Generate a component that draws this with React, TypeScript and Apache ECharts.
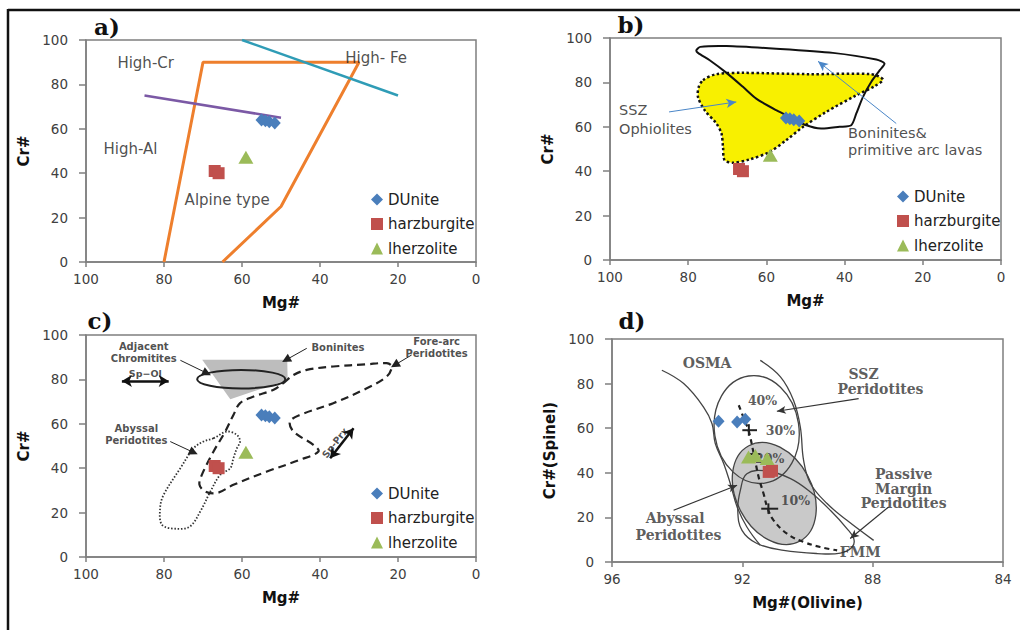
import React, { useEffect, useRef } from 'react';
import * as echarts from 'echarts';

// ---------- data ----------
const rockNames = ['DUnite', 'harzburgite', 'lherzolite'];
// Cr# vs Mg# of spinel (panels a, b, c)
const dunite = [[55, 64], [54, 63.6], [53, 63.2], [51.6, 62.6]];
const harzburgite = [[67, 41], [66, 40]];
const lherzolite = [[59, 47.2]];
// Cr#(spinel) vs Mg#(olivine) (panel d)
const duniteOl = [[92.73, 63.1], [92.16, 62.8], [91.91, 64]];
const harzburgiteOl = [[91.19, 40.4], [91.09, 40.9]];
const lherzoliteOl = [[91.81, 47.1], [91.6, 47.8], [91.24, 46.4]];

// panel a
const alpineField = [[80, 0], [70, 90], [30, 90], [50, 25], [65, 0]];
const crAlDivide = [[85, 75], [50, 65]];
const feDivide = [[60, 100], [20, 75]];
const labelsA = [[84.7, 89.7, 'High-Cr'], [25.6, 92, 'High- Fe'], [88.6, 51.1, 'High-Al'], [63.8, 27.9, 'Alpine type']];

// panel b
const boniniteField = [
  [77.9, 94.5], [76.9, 96], [70.2, 96.4], [57.5, 95.2], [43, 93.3], [31.9, 90.3], [29.8, 88.5],
  [31, 85.5], [33.2, 80.2], [35.3, 73.5], [37, 66], [38.3, 60.7], [41.3, 60], [46, 59.2],
  [49.8, 60.7], [53.2, 63.7], [57.5, 67.5], [62.6, 72.7], [66, 78], [70.2, 84.3], [74.5, 90], [77.5, 93.3],
];
const ophioliteField = [
  [76.2, 81], [72.8, 83.7], [66, 84.3], [48.9, 83.7], [33.2, 83.7], [30.2, 81.3], [32.3, 78.3],
  [37, 74.2], [44.7, 66.7], [50.6, 60], [54.9, 54], [59.2, 48.7], [64.3, 45.3], [68.5, 43.8],
  [70.7, 45], [71.1, 51], [71.5, 57], [72.8, 61.5], [75.8, 67.5], [77.5, 73.5], [77.3, 78],
];
const labelsB = [[97.7, 67.5, 'SSZ'], [97.7, 59.2, 'Ophiolites'], [39.1, 57.4, 'Boninites&'], [39.1, 49.5, 'primitive arc lavas']];
const arrowsB = [[84.9, 66.7, 67.7, 71.2], [26.8, 61.5, 46.8, 89.5]];

// panel c
const boniniteC = [[70.2, 88.8], [48.4, 88.8], [48.3, 79.8], [63, 71.1]];
const chromititeEllipse = { center: [60.2, 80.1], end: [48.9, 80.1], ratio: 0.21 };
const foreArcField = [
  [49.4, 78.3], [46.8, 82], [43.4, 84.3], [36.6, 85.8], [28, 86.8], [22.9, 87.3], [21.6, 85.8],
  [22.9, 81.3], [28, 76], [36.6, 69.3], [45.1, 64], [47.7, 61], [46.8, 56.5], [41.7, 50.5],
  [40.4, 47.5], [45.1, 43.8], [53.6, 38.5], [62.2, 32.5], [66.4, 28.8], [69.4, 29.5], [70.9, 32.5],
  [70.3, 37], [67.3, 47.5], [64.3, 56.5], [62.2, 64], [60.5, 69.3], [57, 72.3], [51.9, 75.3],
];
const abyssalFieldC = [
  [67.3, 53.5], [63.9, 56.5], [61.3, 55], [60.5, 52], [61.3, 49], [62.2, 44.5], [63, 40],
  [65.6, 37], [68.1, 29.5], [70.7, 20.5], [73.3, 13.8], [76.7, 12.7], [80.5, 14.5], [81, 22],
  [80.1, 28], [75.8, 40], [72.4, 49], [69.9, 52],
];
const labelsC = [
  [85.2, 94.9, 'Adjacent'], [85.2, 89.6, 'Chromitites'], [35.4, 94.5, 'Boninites'],
  [10.1, 96.9, 'Fore-arc'], [10.1, 91.6, 'Peridotites'], [87.1, 58.0, 'Abyssal'], [87.1, 52.7, 'Peridotites'],
];
const smallLabelsC = [[84.8, 82.8, 'Sp\u2212Ol']];
const rotatedLabelsC = [[36.2, 51.5, 'Sp-Prx']];
const arrowsC = [[75.8, 88.6, 69, 82.8], [43.4, 94.0, 48.7, 88.8], [16.5, 91, 20.8, 86.5], [78.4, 52, 72.4, 47.1]];
const doubleArrowsC = [[90.8, 79.3, 78.8, 79.3], [37.4, 44.5, 31.4, 58]];

// panel d
const osmaLeft = [
  [94.47, 86], [93.8, 80], [93.19, 69.5], [92.93, 62], [92.83, 53.1], [92.57, 44.1],
  [92.37, 35.2], [92.16, 24.7], [91.86, 15.7], [91.45, 7.5],
];
const osmaRight = [
  [91.45, 90.4], [90.83, 83], [90.43, 72.5], [90.22, 60.5], [90.12, 45.6], [89.91, 35.2],
  [89.4, 26.2], [88.79, 18.7], [87.97, 9.7],
];
const sszEllipse = { center: [91.56, 59.4], end: [91.81, 83.4], ratio: 0.78 };
const abyssalEllipse = { center: [91.02, 30.7], end: [91.8, 52.1], ratio: 0.7 };
const passiveField = [
  [91.86, 39.6], [92.06, 32.2], [92.14, 23.2], [92.01, 14.2], [91.55, 8.3], [90.73, 5.2],
  [89.71, 3.8], [88.99, 4.0], [88.63, 6.7], [88.58, 10.5], [88.79, 15.0], [89.3, 23.2],
  [89.91, 31.4], [90.52, 37.4], [91.24, 40.8],
];
const meltTrend = [
  [92.11, 70.3], [91.91, 62.8], [91.81, 59.1], [91.65, 48.6], [91.5, 38.1], [91.35, 30.7],
  [91.22, 23.9], [91.04, 18.7], [90.63, 12.7], [90.12, 9.0], [89.61, 6.7], [89.09, 5.2],
];
const meltTicks = [
  [92.0, 59.1, 91.55, 59.1], [91.8, 61.8, 91.8, 56.6], [91.85, 48.4, 91.45, 48.4],
  [91.42, 23.9, 90.9, 23.9], [91.2, 26.3, 91.2, 21.6],
];
const fieldLabelsD = [
  [93.08, 89.4, 'OSMA'], [88.28, 84.5, 'SSZ'], [87.76, 77.8, 'Peridotites'],
  [87.05, 39.6, 'Passive'], [87.05, 32.9, 'Margin'], [87.05, 26.6, 'Peridotites'],
  [94.06, 19.9, 'Abyssal'], [93.96, 12.3, 'Peridotites'], [88.38, 4.5, 'FMM'],
];
const meltLabelsD = [[91.38, 72.5, '40%'], [90.83, 59.1, '30%'], [91.16, 46.4, '20%'], [90.37, 27.7, '10%']];
const arrowsD = [[88.43, 73.3, 90.94, 67.6], [94.11, 23.2, 92.16, 34.4], [87.51, 24.7, 88.69, 10.5]];

// ---------- styles ----------
const BLUE = '#4A7EBB';
const RED = '#C0504D';
const GREEN = '#9BBB59';
const AXIS = '#7f7f7f';
const SANS = '"DejaVu Sans", Verdana, sans-serif';
const SERIF = '"DejaVu Serif", serif';

function polySeries(idx: number, pts: number[][], style: any, smooth: number, z: number) {
  return {
    type: 'custom', xAxisIndex: idx, yAxisIndex: idx, silent: true, z, data: [pts[0]],
    renderItem: (_p: any, api: any) => ({
      type: 'polygon', shape: { points: pts.map((p) => api.coord(p)), smooth }, style,
    }),
  };
}

function ellipseSeries(idx: number, e: any, style: any, z: number) {
  return {
    type: 'custom', xAxisIndex: idx, yAxisIndex: idx, silent: true, z, data: [e.center],
    renderItem: (_p: any, api: any) => {
      const c = api.coord(e.center);
      const p = api.coord(e.end);
      const dx = p[0] - c[0];
      const dy = p[1] - c[1];
      const a = Math.hypot(dx, dy);
      return {
        type: 'ellipse', x: c[0], y: c[1], rotation: -Math.atan2(dy, dx),
        shape: { cx: 0, cy: 0, rx: a, ry: a * e.ratio }, style,
      };
    },
  };
}

function segSeries(idx: number, segs: number[][], style: any, z: number) {
  return {
    type: 'custom', xAxisIndex: idx, yAxisIndex: idx, silent: true, z, data: segs,
    renderItem: (_p: any, api: any) => {
      const a = api.coord([api.value(0), api.value(1)]);
      const b = api.coord([api.value(2), api.value(3)]);
      return { type: 'line', shape: { x1: a[0], y1: a[1], x2: b[0], y2: b[1] }, style };
    },
  };
}

function lineSeries(idx: number, pts: number[][], color: string, width: number, smooth: any, z: number, type: any = 'solid') {
  return {
    type: 'line', xAxisIndex: idx, yAxisIndex: idx, data: pts, symbol: 'none', smooth, silent: true, z,
    lineStyle: { color, width, type }, emphasis: { disabled: true },
  };
}

function arrowSeries(idx: number, arrows: number[][], color: string, width: number, symbol: any, size: any, z: number) {
  return {
    type: 'scatter', xAxisIndex: idx, yAxisIndex: idx, data: [], silent: true, z,
    markLine: {
      silent: true, symbol, symbolSize: size, label: { show: false },
      lineStyle: { color, width, type: 'solid' }, emphasis: { disabled: true },
      data: arrows.map((a) => [{ coord: [a[0], a[1]] }, { coord: [a[2], a[3]] }]),
    },
  };
}

function labelSeries(idx: number, labels: any[], label: any, z: number) {
  return {
    type: 'scatter', xAxisIndex: idx, yAxisIndex: idx, symbolSize: 0, silent: true, z,
    itemStyle: { color: 'transparent' },
    data: labels.map((l) => ({ value: [l[0], l[1]], label: { formatter: l[2] } })),
    label: { show: true, position: 'inside', align: 'center', verticalAlign: 'middle', ...label },
    emphasis: { disabled: true },
  };
}

function markerSeries(idx: number, sets: number[][][]) {
  const symbols = ['diamond', 'rect', 'triangle'];
  const sizes: any[] = [[12, 13], [12, 12], [15, 13]];
  const colors = [BLUE, RED, GREEN];
  return sets.map((d, i) => ({
    type: 'scatter', name: rockNames[i], xAxisIndex: idx, yAxisIndex: idx, data: d,
    symbol: symbols[i], symbolSize: sizes[i], itemStyle: { color: colors[i], opacity: 1 }, z: 6,
    emphasis: { disabled: true },
  }));
}

const grids = [
  { left: 86, top: 40, width: 390, height: 222 },
  { left: 610, top: 38, width: 391, height: 222 },
  { left: 86, top: 335, width: 390, height: 222 },
  { left: 612, top: 339, width: 391, height: 223 },
];

function xAxis(i: number) {
  const d = i === 3;
  return {
    gridIndex: i, type: 'value', min: d ? 84 : 0, max: d ? 96 : 100, interval: d ? 4 : 20, inverse: true,
    name: d ? 'Mg#(Olivine)' : 'Mg#', nameLocation: 'middle', nameGap: 33,
    nameTextStyle: { fontFamily: SANS, fontWeight: 'bold', fontSize: 15, color: '#111' },
    axisLine: { onZero: false, lineStyle: { color: AXIS, width: 1.5 } },
    axisTick: { length: 5, lineStyle: { color: AXIS, width: 1.5 } },
    axisLabel: { fontFamily: SANS, fontSize: 13.5, color: '#404040', margin: 10 },
    splitLine: { show: false },
  };
}
function yAxis(i: number) {
  return {
    gridIndex: i, type: 'value', min: 0, max: 100, interval: 20,
    name: i === 3 ? 'Cr#(Spinel)' : 'Cr#', nameLocation: 'middle', nameGap: 55,
    nameTextStyle: { fontFamily: SANS, fontWeight: 'bold', fontSize: 15, color: '#111' },
    axisLine: { onZero: false, lineStyle: { color: AXIS, width: 1.5 } },
    axisTick: { length: 7, lineStyle: { color: AXIS, width: 1.5 } },
    axisLabel: { fontFamily: SANS, fontSize: 13.5, color: '#404040', margin: 18 },
    splitLine: { show: false },
  };
}

function legend(left: number, top: number) {
  return {
    left, top, orient: 'vertical', itemWidth: 12, itemHeight: 12, itemGap: 9.5, selectedMode: false,
    textStyle: { fontFamily: SANS, fontSize: 15, color: '#222' },
    data: [
      { name: 'DUnite', icon: 'diamond' },
      { name: 'harzburgite', icon: 'rect' },
      { name: 'lherzolite', icon: 'triangle' },
    ],
  };
}

function panelLabel(text: string, x: number, y: number) {
  return {
    type: 'text', x, y,
    style: { text, font: `bold 23px ${SERIF}`, fill: '#111', align: 'center', verticalAlign: 'middle' },
  };
}

export default function App() {
  const ref = useRef<HTMLDivElement>(null);
  useEffect(() => {
    if (!ref.current) return;
    const chart = echarts.init(ref.current, undefined, { renderer: 'svg' });
    const annA = { fontFamily: SANS, fontSize: 15, color: '#222' };
    const annC = { fontFamily: SANS, fontSize: 10, fontWeight: 'bold', color: '#222' };
    const annD = { fontFamily: SERIF, fontSize: 14, fontWeight: 'bold', color: '#333' };
    const series: any[] = [
      // a
      lineSeries(0, alpineField, '#EE7F2D', 3, false, 2),
      lineSeries(0, crAlDivide, '#7B59A5', 2.5, false, 2),
      lineSeries(0, feDivide, '#2F9CB6', 2.5, false, 2),
      labelSeries(0, labelsA, annA, 3),
      ...markerSeries(0, [dunite, harzburgite, lherzolite]),
      // b
      polySeries(1, ophioliteField, { fill: '#F8F000', stroke: '#111', lineWidth: 2.5, lineDash: [2.5, 2.5] }, 0.3, 1),
      polySeries(1, boniniteField, { fill: 'none', stroke: '#111', lineWidth: 2, lineJoin: 'round' }, 0.25, 2),
      arrowSeries(1, arrowsB, '#4A86C8', 1, ['none', 'arrow'], [7, 10], 3),
      labelSeries(1, labelsB, { ...annA, fontSize: 14.5, align: 'left' }, 3),
      ...markerSeries(1, [dunite, harzburgite, lherzolite]),
      // c
      polySeries(2, boniniteC, { fill: '#BDBDBD', stroke: 'none' }, 0, 1),
      ellipseSeries(2, chromititeEllipse, { fill: 'none', stroke: '#222', lineWidth: 2 }, 2),
      polySeries(2, foreArcField, { fill: 'none', stroke: '#222', lineWidth: 2.2, lineDash: [8, 5] }, 0.35, 2),
      polySeries(2, abyssalFieldC, { fill: 'none', stroke: '#333', lineWidth: 1.8, lineDash: [1.5, 1.8] }, 0.35, 2),
      arrowSeries(2, arrowsC, '#222', 1, ['none', 'triangle'], [9, 9], 3),
      arrowSeries(2, doubleArrowsC, '#111', 2.5, ['arrow', 'arrow'], [9, 10], 3),
      labelSeries(2, labelsC, annC, 3),
      labelSeries(2, smallLabelsC, { ...annC, fontSize: 9.5 }, 3),
      labelSeries(2, rotatedLabelsC, { ...annC, fontSize: 9.5, rotate: 52 }, 3),
      ...markerSeries(2, [dunite, harzburgite, lherzolite]),
      // d
      ellipseSeries(3, abyssalEllipse, { fill: '#C9C9C9', stroke: '#444', lineWidth: 1.3 }, 1),
      ellipseSeries(3, sszEllipse, { fill: 'none', stroke: '#444', lineWidth: 1.3 }, 2),
      polySeries(3, passiveField, { fill: 'none', stroke: '#444', lineWidth: 1.3 }, 0.4, 2),
      lineSeries(3, osmaLeft, '#444', 1.3, 0.4, 2),
      lineSeries(3, osmaRight, '#444', 1.3, 0.4, 2),
      lineSeries(3, meltTrend, '#222', 2.2, 0.4, 3, [5, 4]),
      segSeries(3, meltTicks, { stroke: '#222', lineWidth: 2 }, 3),
      arrowSeries(3, arrowsD, '#333', 1.2, ['none', 'arrow'], [6, 9], 3),
      labelSeries(3, fieldLabelsD, annD, 4),
      labelSeries(3, meltLabelsD, { ...annD, fontSize: 12.5 }, 4),
      ...markerSeries(3, [duniteOl, harzburgiteOl, lherzoliteOl]),
    ];
    chart.setOption({
      animation: false,
      backgroundColor: '#ffffff',
      grid: grids.map((g) => ({ ...g, show: true, borderColor: AXIS, borderWidth: 1.5, backgroundColor: 'transparent' })),
      xAxis: [0, 1, 2, 3].map(xAxis),
      yAxis: [0, 1, 2, 3].map(yAxis),
      legend: [legend(366, 187), legend(892, 184), legend(366, 481)],
      graphic: [
        { type: 'line', shape: { x1: 8, y1: 10, x2: 1020, y2: 10 }, style: { stroke: '#111', lineWidth: 2.5 } },
        { type: 'line', shape: { x1: 8, y1: 9, x2: 8, y2: 630 }, style: { stroke: '#111', lineWidth: 2.5 } },
        panelLabel('a)', 107, 26),
        panelLabel('b)', 631, 24),
        panelLabel('c)', 100, 320),
        panelLabel('d)', 632, 320),
      ],
      series,
    });
    return () => chart.dispose();
  }, []);
  return <div ref={ref} style={{ position: 'fixed', left: 0, top: 0, width: 1020, height: 630, background: '#fff' }} />;
}
